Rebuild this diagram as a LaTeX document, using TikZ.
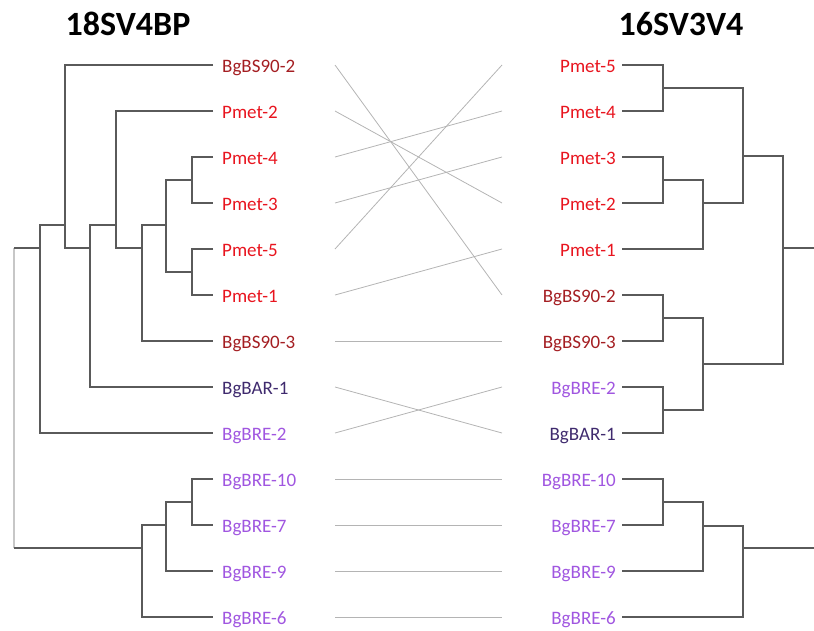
\documentclass[tikz,border=0pt]{standalone}
\usepackage{fontspec}
\setmainfont{Carlito}
\definecolor{cbs}{HTML}{A41E22}
\definecolor{cpm}{HTML}{E8141E}
\definecolor{cbar}{HTML}{3F2A6E}
\definecolor{cbre}{HTML}{A056E0}
\definecolor{treec}{HTML}{5A5A5A}
\definecolor{linkc}{HTML}{B4B4B4}
\begin{document}
\begin{tikzpicture}[x=1pt,y=-1pt,
  lab/.style={text=#1, inner sep=0pt, font=\fontsize{19}{22}\selectfont},
  ttl/.style={inner sep=0pt, font=\fontsize{34}{38}\selectfont\bfseries, anchor=base},
  tree/.style={draw=treec, line width=1.2pt},
  rootl/.style={draw=black!22, line width=1.2pt},
  link/.style={draw=linkc, line width=0.8pt}]
\useasboundingbox (0,0) rectangle (814,630);
\node[ttl] (tl) at (128,35) {18SV4BP};
\node[ttl] (tr) at (681,35) {16SV3V4};
% left leaves
\foreach \i/\t/\c in {0/BgBS90-2/cbs,1/Pmet-2/cpm,2/Pmet-4/cpm,3/Pmet-3/cpm,4/Pmet-5/cpm,5/Pmet-1/cpm,6/BgBS90-3/cbs,7/BgBAR-1/cbar,8/BgBRE-2/cbre,9/BgBRE-10/cbre,10/BgBRE-7/cbre,11/BgBRE-9/cbre,12/BgBRE-6/cbre}{
  \node[lab=\c, anchor=base west] (L\i) at (222,{65+46*\i+7}) {\t};
  \coordinate (Lt\i) at (213,{65+46*\i});
  \coordinate (La\i) at (335,{65+46*\i});
}
% right leaves
\foreach \i/\t/\c in {0/Pmet-5/cpm,1/Pmet-4/cpm,2/Pmet-3/cpm,3/Pmet-2/cpm,4/Pmet-1/cpm,5/BgBS90-2/cbs,6/BgBS90-3/cbs,7/BgBRE-2/cbre,8/BgBAR-1/cbar,9/BgBRE-10/cbre,10/BgBRE-7/cbre,11/BgBRE-9/cbre,12/BgBRE-6/cbre}{
  \node[lab=\c, anchor=base east] (R\i) at (616,{65+46*\i+7}) {\t};
  \coordinate (Rt\i) at (622,{65+46*\i});
  \coordinate (Ra\i) at (502,{65+46*\i});
}
% left tree
\coordinate (G) at (192,180);
\coordinate (H) at (192,272);
\coordinate (F) at (166,225);
\coordinate (E) at (142,248);
\coordinate (D) at (116,225);
\coordinate (C) at (90,248);
\coordinate (B) at (65,225);
\coordinate (A) at (40,248);
\coordinate (K) at (192,502);
\coordinate (J) at (166,525);
\coordinate (I) at (142,548);
\coordinate (rA) at (14,248);
\coordinate (rI) at (14,548);
\draw[rootl] (rA) -- (rI);
\draw[tree] (Lt2) -| (G) |- (Lt3);
\draw[tree] (Lt4) -| (H) |- (Lt5);
\draw[tree] (G) -| (F) |- (H);
\draw[tree] (F) -| (E) |- (Lt6);
\draw[tree] (Lt1) -| (D) |- (E);
\draw[tree] (D) -| (C) |- (Lt7);
\draw[tree] (Lt0) -| (B) |- (C);
\draw[tree] (B) -| (A) |- (Lt8);
\draw[tree] (Lt9) -| (K) |- (Lt10);
\draw[tree] (K) -| (J) |- (Lt11);
\draw[tree] (J) -| (I) |- (Lt12);
\draw[tree] (A) -- (rA);
\draw[tree] (I) -- (rI);
% right tree
\coordinate (R1n) at (663,88);
\coordinate (R2n) at (663,180);
\coordinate (R3n) at (703,203);
\coordinate (R4n) at (743,156);
\coordinate (R6n) at (663,318);
\coordinate (R7n) at (663,410);
\coordinate (R8n) at (703,364);
\coordinate (R5n) at (783,248);
\coordinate (R9n) at (663,502);
\coordinate (R10n) at (703,526);
\coordinate (R11n) at (743,548);
\coordinate (E1) at (814,248);
\coordinate (E2) at (814,548);
\draw[tree] (Rt0) -| (R1n) |- (Rt1);
\draw[tree] (Rt2) -| (R2n) |- (Rt3);
\draw[tree] (R2n) -| (R3n) |- (Rt4);
\draw[tree] (R1n) -| (R4n) |- (R3n);
\draw[tree] (Rt5) -| (R6n) |- (Rt6);
\draw[tree] (Rt7) -| (R7n) |- (Rt8);
\draw[tree] (R6n) -| (R8n) |- (R7n);
\draw[tree] (R4n) -| (R5n) |- (R8n);
\draw[tree] (R5n) -- (E1);
\draw[tree] (Rt9) -| (R9n) |- (Rt10);
\draw[tree] (R9n) -| (R10n) |- (Rt11);
\draw[tree] (R10n) -| (R11n) |- (Rt12);
\draw[tree] (R11n) -- (E2);
% links
\draw[link] (La0) -- (Ra5);
\draw[link] (La1) -- (Ra3);
\draw[link] (La2) -- (Ra1);
\draw[link] (La3) -- (Ra2);
\draw[link] (La4) -- (Ra0);
\draw[link] (La5) -- (Ra4);
\draw[link] (La6) -- (Ra6);
\draw[link] (La7) -- (Ra8);
\draw[link] (La8) -- (Ra7);
\draw[link] (La9) -- (Ra9);
\draw[link] (La10) -- (Ra10);
\draw[link] (La11) -- (Ra11);
\draw[link] (La12) -- (Ra12);
\end{tikzpicture}
\end{document}
